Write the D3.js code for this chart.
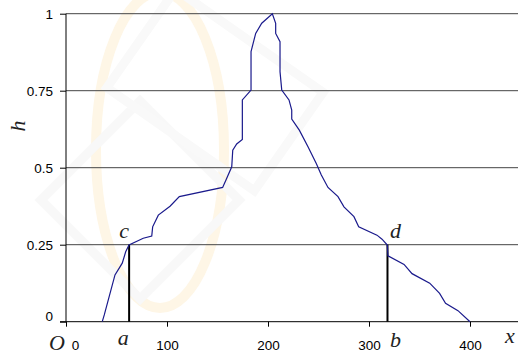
<!DOCTYPE html>
<html>
<head>
<meta charset="utf-8">
<script src="https://cdn.jsdelivr.net/npm/d3@7"></script>
<style>
  body { margin: 0; background: #fff; }
  svg { display: block; }
</style>
</head>
<body>
<div id="chart"></div>
<script>
// profile of the membership curve h(x)
const profileX = [35.9, 37.9, 48.5, 55.7, 59.1, 62.4, 76.5, 84.9, 85.8, 91.4, 103.0, 112.2, 155.1, 158.4, 164.1, 165.1, 169.0, 174.6, 174.6, 183.2, 183.2, 187.8, 193.8, 204.3, 207.6, 207.6, 211.9, 211.9, 213.6, 220.8, 223.5, 223.5, 231.0, 239.6, 247.8, 252.8, 259.4, 269.3, 275.2, 285.1, 289.8, 307.9, 312.9, 318.1, 318.8, 334.7, 342.6, 360.1, 369.9, 375.8, 388.1, 400];
const profileH = [0, 0.022, 0.152, 0.19, 0.227, 0.249, 0.271, 0.278, 0.308, 0.346, 0.375, 0.406, 0.436, 0.46, 0.503, 0.557, 0.577, 0.592, 0.72, 0.752, 0.877, 0.936, 0.969, 1.0, 0.969, 0.936, 0.909, 0.812, 0.752, 0.72, 0.687, 0.658, 0.622, 0.568, 0.514, 0.476, 0.436, 0.406, 0.373, 0.341, 0.308, 0.281, 0.268, 0.249, 0.214, 0.186, 0.156, 0.125, 0.092, 0.06, 0.036, 0];

const xTicks = [0, 100, 200, 300, 400];
const yTicks = [0, 0.25, 0.5, 0.75, 1];
const yTickLabels = ['0', '0.25', '0.5', '0.75', '1'];

// the two cut points a, b at level 0.25
const cutX = [62.5, 318.3];
const cutH = 0.25;

const width = 518, height = 354;

const svg = d3.select('#chart').append('svg')
  .attr('width', width)
  .attr('height', height);

const x = d3.scaleLinear().domain([0, 450]).range([66, 520.5]);
const y = d3.scaleLinear().domain([0, 1]).range([321.7, 13.7]);

// very faint watermark in the background
const wm = svg.append('g');
wm.append('ellipse')
  .attr('cx', 160).attr('cy', 150).attr('rx', 64).attr('ry', 158)
  .style('fill', 'none')
  .style('stroke', '#fef6e6')
  .style('stroke-width', 10);
wm.append('rect')
  .attr('x', -70).attr('y', -70).attr('width', 140).attr('height', 140)
  .attr('transform', 'translate(140,200) rotate(45)')
  .style('fill', 'none')
  .style('stroke', '#f8f8f8')
  .style('stroke-width', 9);
wm.append('rect')
  .attr('x', -90).attr('y', -60).attr('width', 180).attr('height', 120)
  .attr('transform', 'translate(215,90) rotate(35)')
  .style('fill', 'none')
  .style('stroke', '#f9f9f9')
  .style('stroke-width', 9);

// horizontal grid lines
svg.append('g')
  .selectAll('line')
  .data(yTicks.slice(1))
  .enter()
  .append('line')
  .attr('x1', x(0))
  .attr('x2', x(450))
  .attr('y1', d => y(d))
  .attr('y2', d => y(d))
  .style('stroke', '#444')
  .style('stroke-width', 1);

// axes
const yAxis = d3.axisLeft(y)
  .tickValues(yTicks)
  .tickFormat((d, i) => yTickLabels[i])
  .tickSize(6)
  .tickPadding(7);

const gy = svg.append('g')
  .attr('transform', 'translate(' + x(0) + ',0)')
  .call(yAxis);
gy.select('.domain').remove();
gy.append('line')
  .attr('x1', 0).attr('x2', 0)
  .attr('y1', y(1)).attr('y2', y(0))
  .style('stroke', '#000');
gy.selectAll('.tick text')
  .style('font-family', 'Liberation Sans, Arial, sans-serif')
  .style('font-size', '13.5px')
  .attr('dy', (d) => d === 0 ? '-0.1em' : '0.32em');

const xAxis = d3.axisBottom(x)
  .tickValues(xTicks)
  .tickFormat(d3.format('d'))
  .tickSize(5)
  .tickPadding(14);

const gx = svg.append('g')
  .attr('transform', 'translate(0,' + y(0) + ')')
  .call(xAxis);
gx.select('.domain').remove();
gx.append('line')
  .attr('x1', x(0) - 6).attr('x2', x(450))
  .attr('y1', 0).attr('y2', 0)
  .style('stroke', '#000');
gx.selectAll('.tick text')
  .style('font-family', 'Liberation Sans, Arial, sans-serif')
  .style('font-size', '13.5px')
  .attr('x', (d) => d === 0 ? 9 : 0);

// cut lines at a and b
svg.append('g')
  .selectAll('line')
  .data(cutX)
  .enter()
  .append('line')
  .attr('x1', d => x(d))
  .attr('x2', d => x(d))
  .attr('y1', y(0))
  .attr('y2', y(cutH))
  .style('stroke', '#000')
  .style('stroke-width', 2);

// the curve
const pts = profileX.map((v, i) => [v, profileH[i]]);
svg.append('path')
  .datum(pts)
  .attr('d', d3.line().x(d => x(d[0])).y(d => y(d[1])))
  .style('fill', 'none')
  .style('stroke', '#1a1a8c')
  .style('stroke-width', 1.2);

// italic letters
const italic = (t, px, py, rot) => {
  const el = svg.append('text')
    .attr('text-anchor', 'middle')
    .style('font-family', 'Liberation Serif, Times New Roman, serif')
    .style('font-style', 'italic')
    .style('font-size', '22px')
    .style('fill', '#222')
    .text(t);
  if (rot) el.attr('transform', 'translate(' + px + ',' + py + ') rotate(' + rot + ')');
  else el.attr('x', px).attr('y', py);
};

italic('c', x(cutX[0]) - 5, y(cutH) - 7);
italic('d', x(cutX[1]) + 8, y(cutH) - 7);
italic('a', x(cutX[0]) - 6, 345);
italic('b', x(cutX[1]) + 8, 347);
italic('O', 57, 350);
italic('x', 510, 343);
italic('h', 25, 126, -90);
</script>
</body>
</html>
